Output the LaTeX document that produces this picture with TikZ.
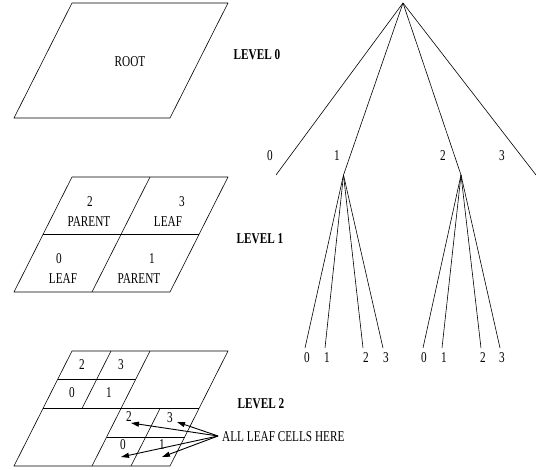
\documentclass[tikz,border=0pt]{standalone}
\usepackage{fontspec}
\setmainfont{Liberation Serif}
\usetikzlibrary{arrows.meta}
\begin{document}
\begin{tikzpicture}[x=1pt,y=-1pt, line width=0.6pt,
  txt/.style={font=\fontsize{15}{17}\selectfont, xscale=0.75, inner sep=0pt},
  lvl/.style={font=\fontsize{15}{17}\selectfont\bfseries, xscale=0.75, inner sep=0pt},
  arr/.style={-{Triangle[length=8pt,width=5pt]}, line width=0.9pt}]
\useasboundingbox (0,0) rectangle (536,470);
% ---------- level 0 cell ----------
\draw (14,118) -- (170,118) -- (228,3) -- (72,3) -- cycle;
\node[txt] (root) at (130,62) {ROOT};
\node[lvl] (lv0) at (257,55) {LEVEL 0};
% ---------- level 1 cells ----------
\draw (14,292) -- (170,292) -- (228,177) -- (72,177) -- cycle;
\draw (92,292) -- (150,177);
\draw (43,234.5) -- (199,234.5);
\node[txt] (a2) at (90,202) {2};
\node[txt] (a2t) at (89,222) {PARENT};
\node[txt] (a3) at (182,202) {3};
\node[txt] (a3t) at (168,222) {LEAF};
\node[txt] (a0) at (59,259) {0};
\node[txt] (a0t) at (63,279) {LEAF};
\node[txt] (a1) at (152,259) {1};
\node[txt] (a1t) at (139,279) {PARENT};
\node[lvl] (lv1) at (260,239) {LEVEL 1};
% ---------- level 2 cells ----------
\draw (14,466) -- (170,466) -- (228,351) -- (72,351) -- cycle;
\draw (92,466) -- (150,351);
\draw (43,408.5) -- (199,408.5);
\draw (57.5,379.75) -- (135.5,379.75);
\draw (82,408.5) -- (111,351);
\draw (106.5,437.25) -- (184.5,437.25);
\draw (131,466) -- (160,408.5);
\node[txt] (b2) at (82,365) {2};
\node[txt] (b3) at (121,365) {3};
\node[txt] (b0) at (72,393) {0};
\node[txt] (b1) at (109,393) {1};
\node[txt] (c2) at (129,417) {2};
\node[txt] (c3) at (170,418) {3};
\node[txt] (c0) at (123,445) {0};
\node[txt] (c1) at (162,445) {1};
\node[lvl] (lv2) at (261,404) {LEVEL 2};
\node[txt, anchor=west] (all) at (222,437) {ALL LEAF CELLS HERE};
\coordinate (src) at (218,436);
\coordinate (t2) at (131,423);
\coordinate (t3) at (177,422);
\coordinate (t0) at (121,457);
\coordinate (t1) at (162,457);
\draw[arr] (src) -- (t2);
\draw[arr] (src) -- (t3);
\draw[arr] (src) -- (t0);
\draw[arr] (src) -- (t1);
% ---------- tree ----------
\coordinate (r) at (403,3);
\coordinate (n0) at (276,175);
\coordinate (n1) at (343.5,175);
\coordinate (n2) at (461,175);
\coordinate (n3) at (536,175);
\draw (r) -- (n0);
\draw (r) -- (n1);
\draw (r) -- (n2);
\draw (r) -- (n3);
\node[txt] (l0) at (270,156) {0};
\node[txt] (l1) at (337,156) {1};
\node[txt] (l2) at (443,156) {2};
\node[txt] (l3) at (502,156) {3};
\coordinate (m10) at (305,348);
\coordinate (m11) at (325,348);
\coordinate (m12) at (363,348);
\coordinate (m13) at (383,348);
\coordinate (m20) at (423,348);
\coordinate (m21) at (442,348);
\coordinate (m22) at (481,348);
\coordinate (m23) at (500,348);
\foreach \k in {0,1,2,3} {
  \draw (n1) -- (m1\k);
  \draw (n2) -- (m2\k);
}
\node[txt] (k10) at (307,358) {0};
\node[txt] (k11) at (327,358) {1};
\node[txt] (k12) at (366,358) {2};
\node[txt] (k13) at (386,358) {3};
\node[txt] (k20) at (424,358) {0};
\node[txt] (k21) at (444,358) {1};
\node[txt] (k22) at (483,358) {2};
\node[txt] (k23) at (502,358) {3};
\end{tikzpicture}
\end{document}
